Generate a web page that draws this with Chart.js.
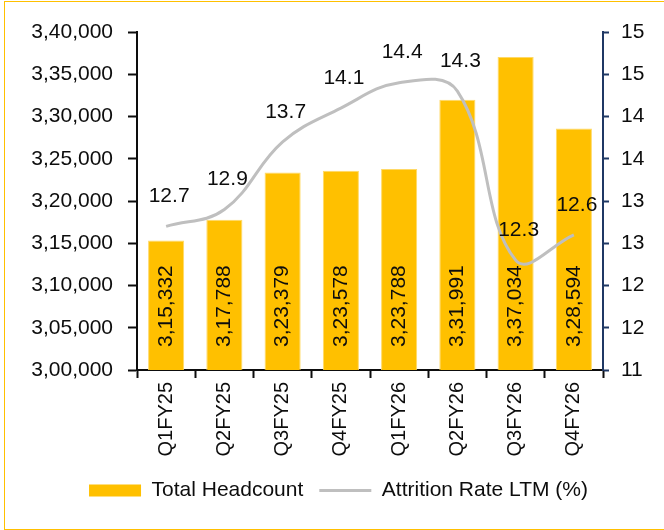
<!DOCTYPE html>
<html>
<head>
<meta charset="utf-8">
<script src="https://cdn.jsdelivr.net/npm/chart.js@4.4.1/dist/chart.umd.min.js"></script>
<style>
  html, body { margin: 0; padding: 0; background: #fff; }
  #wrap { position: relative; width: 664px; height: 530px; overflow: hidden; }
  #wrap canvas { position: absolute; left: 0; top: 0; }
  #frame { position: absolute; left: 4px; top: 1px; width: 700px; height: 527px; border: 1px solid #FFC000; pointer-events: none; }
</style>
</head>
<body>
<div id="wrap">
  <canvas id="chart" width="664" height="530"></canvas>
  <div id="frame"></div>
</div>
<script>
/* headcount vs attrition – bar + line, dual axis */
const quarters  = ['Q1FY25', 'Q2FY25', 'Q3FY25', 'Q4FY25', 'Q1FY26', 'Q2FY26', 'Q3FY26', 'Q4FY26'];
const headcount = [315332, 317788, 323379, 323578, 323788, 331991, 337034, 328594];
const attrition = [12.7, 12.9, 13.7, 14.1, 14.4, 14.3, 12.3, 12.6];

const FONT = 'Arial, "Liberation Sans", sans-serif';
const INK  = '#0d0d0d';
const BAR  = '#FFC000';
const LINE = '#BFBFBF';
const NAVY = '#1F3864';

// indian digit grouping: 340000 -> 3,40,000
const inr = v => {
  const s = String(Math.round(v));
  if (s.length <= 3) return s;
  const rest = s.slice(0, -3).replace(/\B(?=(\d{2})+(?!\d))/g, ',');
  return rest + ',' + s.slice(-3);
};

Chart.defaults.font.family = FONT;
Chart.defaults.color = INK;

// ── value labels (no datalabels plugin offline) ──
const valueLabels = {
  id: 'valueLabels',
  afterDatasetsDraw(chart) {
    const ctx = chart.ctx;
    const bottom = chart.chartArea.bottom;
    ctx.save();
    ctx.fillStyle = INK;
    ctx.font = '21px ' + FONT;
    chart.getDatasetMeta(0).data.forEach((el, i) => {
      ctx.save();
      ctx.translate(el.x, bottom - 23);
      ctx.rotate(-Math.PI / 2);
      ctx.textAlign = 'left';
      ctx.textBaseline = 'middle';
      ctx.fillText(inr(headcount[i]), 0, 0);
      ctx.restore();
    });
    ctx.textAlign = 'center';
    ctx.textBaseline = 'middle';
    chart.getDatasetMeta(1).data.forEach((pt, i) => {
      ctx.fillText(attrition[i].toFixed(1), pt.x + 3, pt.y - 30);
    });
    ctx.restore();
  }
};

new Chart(document.getElementById('chart').getContext('2d'), {
  type: 'bar',
  data: {
    labels: quarters,
    datasets: [
      {
        label: 'Total Headcount',
        data: headcount,
        yAxisID: 'y',
        backgroundColor: BAR,
        borderColor: '#FFD966',
        borderWidth: 1,
        categoryPercentage: 1,
        barPercentage: 0.62,
        order: 2
      },
      {
        type: 'line',
        label: 'Attrition Rate LTM (%)',
        data: attrition,
        yAxisID: 'y1',
        borderColor: LINE,
        borderWidth: 3,
        pointRadius: 0,
        tension: 0.4,
        fill: false,
        order: 1
      }
    ]
  },
  options: {
    responsive: false,
    animation: false,
    events: [],
    layout: { padding: { top: 32, left: 13, right: 0, bottom: 19 } },
    plugins: {
      tooltip: { enabled: false },
      legend: {
        position: 'bottom',
        labels: {
          usePointStyle: true,
          pointStyleWidth: 52,
          boxHeight: 12,
          padding: 16,
          color: INK,
          font: { size: 21 },
          generateLabels: () => [
            { text: 'Total Headcount', fillStyle: BAR, strokeStyle: BAR, lineWidth: 0, pointStyle: 'rect', datasetIndex: 0, hidden: false, fontColor: INK },
            { text: 'Attrition Rate LTM (%)', fillStyle: LINE, strokeStyle: LINE, lineWidth: 3, pointStyle: 'line', datasetIndex: 1, hidden: false, fontColor: INK }
          ]
        }
      }
    },
    scales: {
      x: {
        offset: true,
        grid: { offset: true, drawOnChartArea: false, tickLength: 8, tickColor: INK, tickWidth: 2 },
        border: { color: INK, width: 2 },
        ticks: { color: INK, font: { size: 20 }, minRotation: 90, maxRotation: 90, padding: 4, autoSkip: false },
        afterFit: s => { s.height = 94; }
      },
      y: {
        position: 'left',
        min: 300000, max: 340000,
        ticks: { stepSize: 5000, color: INK, font: { size: 21 }, padding: 15, callback: v => inr(v) },
        grid: { drawOnChartArea: false, tickLength: 9, tickColor: INK, tickWidth: 2 },
        border: { color: INK, width: 2 },
        afterFit: s => { s.width = 124; }
      },
      y1: {
        position: 'right',
        min: 11, max: 15,
        ticks: { stepSize: 0.5, color: INK, font: { size: 21 }, padding: 12, callback: v => Math.round(v) },
        grid: { drawOnChartArea: false, tickLength: 6, tickColor: NAVY, tickWidth: 2 },
        border: { color: NAVY, width: 2 },
        afterFit: s => { s.width = 61; }
      }
    }
  },
  plugins: [valueLabels]
});
</script>
</body>
</html>
